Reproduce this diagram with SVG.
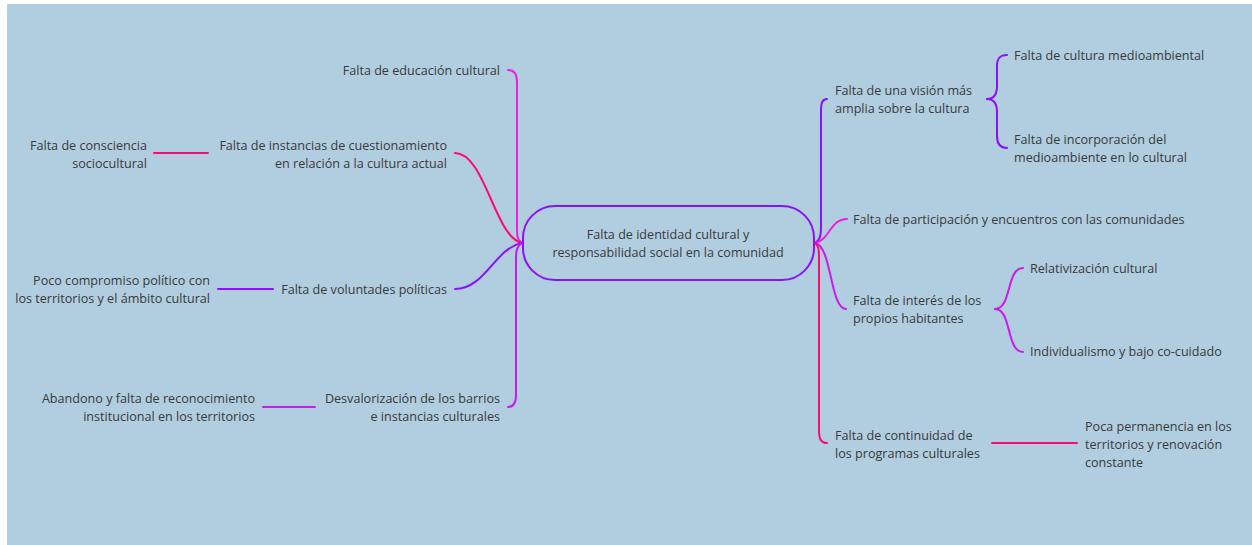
<svg xmlns="http://www.w3.org/2000/svg" width="1252" height="545" viewBox="0 0 1252 545">
<style>
text{font-family:"Open Sans","Noto Sans","Liberation Sans",sans-serif;font-size:12.6px;fill:#3a3a3a}
.r{text-anchor:end}
.c{text-anchor:middle}
.ln{fill:none;stroke-width:2;stroke-linecap:round}
.pu{stroke:#8c10fc}
.mg{stroke:#f21de2}
.rd{stroke:#fb0b70}
.pm{stroke:#c91af2}
</style>
<rect x="0" y="0" width="1252" height="545" fill="#ffffff"/>
<rect x="7" y="4" width="1245" height="541" fill="#b1cde0"/>
<g id="connectors">
<path class="ln mg" d="M522,243 C517,240 517,236 517,226 L517,82 C517,74 514,70 508,70"/>
<path class="ln rd" d="M522,243 C495,238 485,153 455,153"/>
<path class="ln pu" d="M522,243 C495,248 485,289 455,289"/>
<path class="ln pm" d="M522,243 C517,246 516,250 516,260 L516,395 C516,403 513,407 508,407"/>
<path class="ln rd" d="M154,153 L208,153"/>
<path class="ln pu" d="M218,289 L273,289"/>
<path class="ln pm" d="M263,407 L315,407"/>
<path class="ln pu" d="M815,243 C820,240 821,236 821,226 L821,112 C821,103 822,99 827,99"/>
<path class="ln mg" d="M815,243 C830,240 830,219 847,219"/>
<path class="ln pm" d="M815,243 C832,246 830,309 846,309"/>
<path class="ln rd" d="M815,243 C819,246 819,250 819,260 L819,430 C819,439 821,443 827,443"/>
<path class="ln pu" d="M987,99 C993,99 997,96 997,86 L997,66 C997,58 1000,55 1007,55"/>
<path class="ln pu" d="M987,99 C993,99 997,102 997,112 L997,136 C997,144 1000,148 1007,148"/>
<path class="ln pm" d="M995,309 C1012,309 1006,268 1023,268"/>
<path class="ln pm" d="M995,309 C1012,309 1006,352 1023,352"/>
<path class="ln rd" d="M992,443 L1077,443"/>
</g>
<g id="center">
<rect x="523" y="206" width="291" height="74" rx="32" fill="none" stroke="#8c10fc" stroke-width="2"/>
<text class="c" x="668" y="239">Falta de identidad cultural y</text>
<text class="c" x="668" y="257">responsabilidad social en la comunidad</text>
</g>
<g id="n-educacion"><text class="r" x="500" y="75">Falta de educación cultural</text></g>
<g id="n-instancias"><text class="r" x="447" y="150">Falta de instancias de cuestionamiento</text><text class="r" x="447" y="168">en relación a la cultura actual</text></g>
<g id="n-consciencia"><text class="r" x="147" y="150">Falta de consciencia</text><text class="r" x="147" y="168">sociocultural</text></g>
<g id="n-voluntades"><text class="r" x="447" y="294">Falta de voluntades políticas</text></g>
<g id="n-compromiso"><text class="r" x="210" y="285">Poco compromiso político con</text><text class="r" x="210" y="303">los territorios y el ámbito cultural</text></g>
<g id="n-desvalorizacion"><text class="r" x="500" y="403">Desvalorización de los barrios</text><text class="r" x="500" y="421">e instancias culturales</text></g>
<g id="n-abandono"><text class="r" x="255" y="403">Abandono y falta de reconocimiento</text><text class="r" x="255" y="421">institucional en los territorios</text></g>
<g id="n-vision"><text x="835" y="95">Falta de una visión más</text><text x="835" y="113">amplia sobre la cultura</text></g>
<g id="n-medioambiental"><text x="1014" y="60">Falta de cultura medioambiental</text></g>
<g id="n-incorporacion"><text x="1014" y="144">Falta de incorporación del</text><text x="1014" y="162">medioambiente en lo cultural</text></g>
<g id="n-participacion"><text x="853" y="224">Falta de participación y encuentros con las comunidades</text></g>
<g id="n-interes"><text x="853" y="305">Falta de interés de los</text><text x="853" y="323">propios habitantes</text></g>
<g id="n-relativizacion"><text x="1030" y="273">Relativización cultural</text></g>
<g id="n-individualismo"><text x="1030" y="356">Individualismo y bajo co-cuidado</text></g>
<g id="n-continuidad"><text x="835" y="440">Falta de continuidad de</text><text x="835" y="458">los programas culturales</text></g>
<g id="n-permanencia"><text x="1085" y="431">Poca permanencia en los</text><text x="1085" y="449">territorios y renovación</text><text x="1085" y="467">constante</text></g>
</svg>
